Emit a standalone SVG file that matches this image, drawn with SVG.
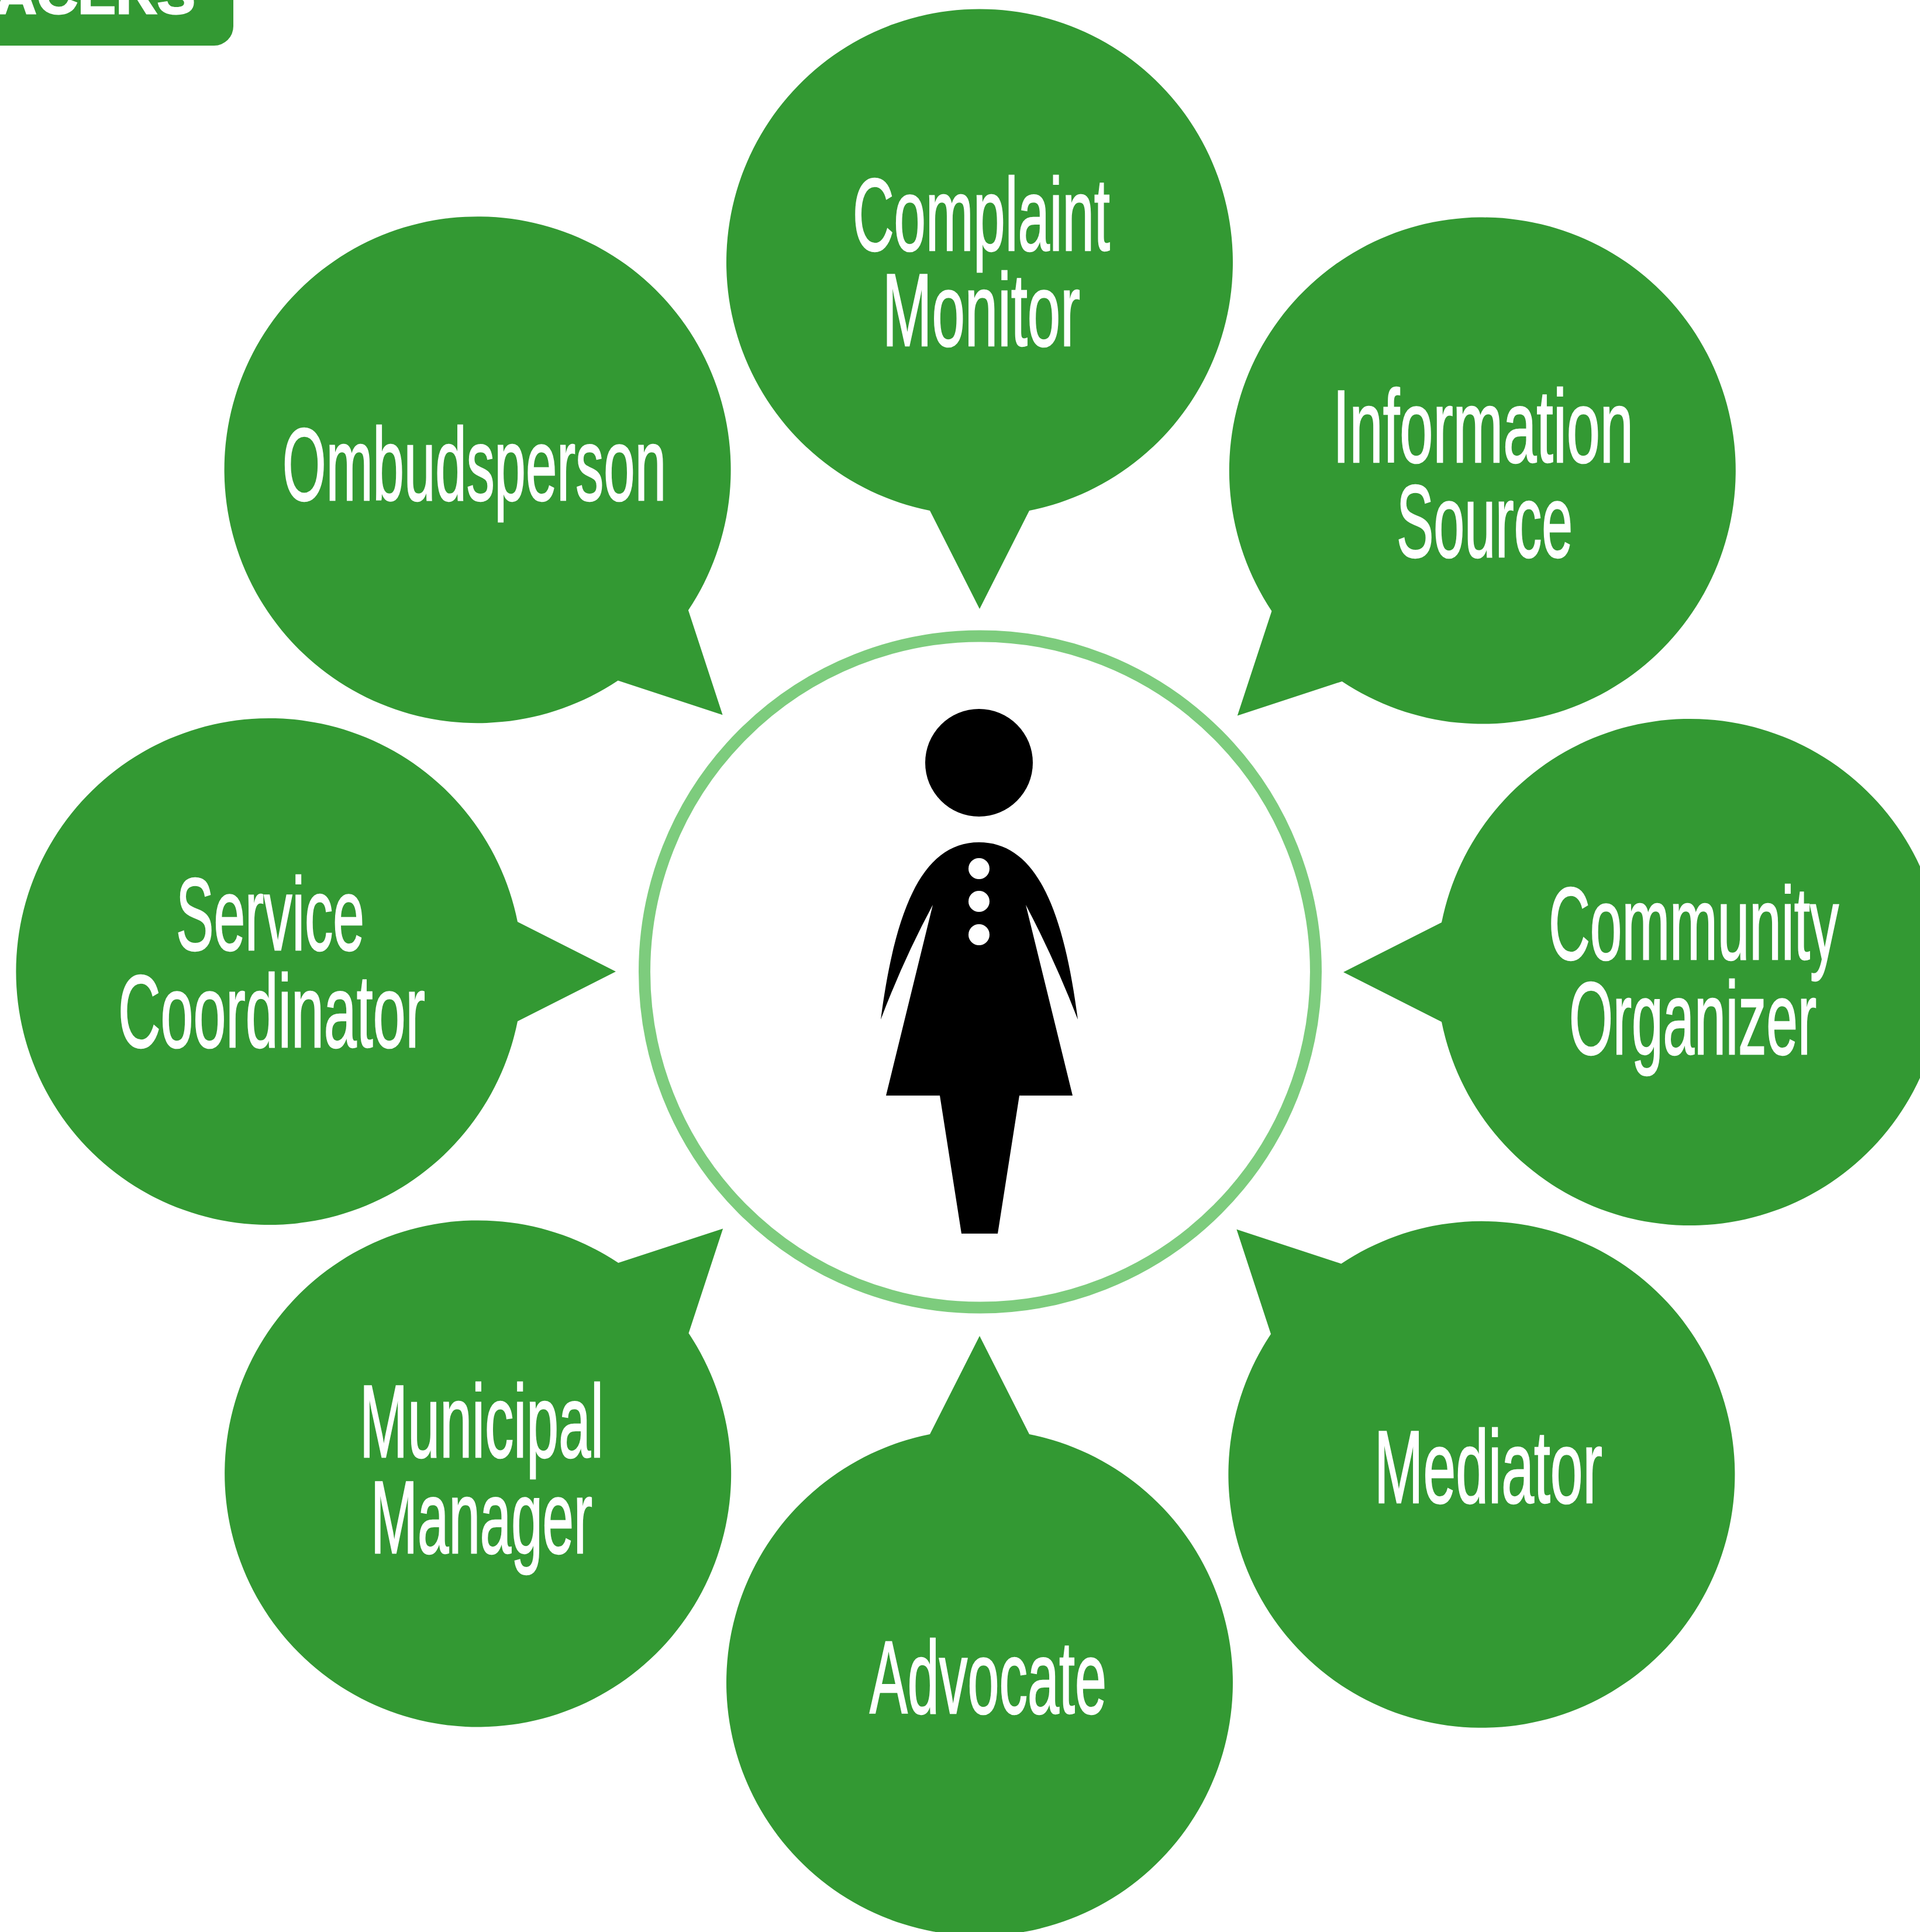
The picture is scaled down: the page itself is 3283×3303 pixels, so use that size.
<svg xmlns="http://www.w3.org/2000/svg" xmlns:xlink="http://www.w3.org/1999/xlink" width="3283" height="3303" viewBox="0 0 3283 3303">
<style>
.b{fill:#339933}
.t{font-family:"Liberation Sans",Arial,sans-serif;font-size:176px;fill:#fff;stroke:#fff;stroke-width:2.5px;text-anchor:start}
.h{font-family:"Liberation Sans",Arial,sans-serif;font-weight:700;font-size:97px;fill:#fff;stroke:#fff;stroke-width:3px}
</style>
<defs><path id="bubble" class="b" d="M1590 873L1675 1041L1760 873A433 433 0 1 0 1590 873Z"/></defs>
<rect width="3283" height="3303" fill="#fff"/>
<g id="header"><rect x="-40" y="-60" width="439" height="138" rx="33" class="b"/><text class="h" x="-8" y="23" textLength="342" lengthAdjust="spacingAndGlyphs">ACERS</text></g>
<g id="center"><circle cx="1676" cy="1661.5" r="574" fill="#fff" stroke="#7dcc7d" stroke-width="20"/>
<circle cx="1674" cy="1304" r="92" fill="#000"/>
<path fill="#000" d="M1674 1440C1575 1440 1530 1560 1506 1743Q1545 1640 1595 1547L1515 1873H1607L1644 2109H1706L1743 1873H1834L1754 1547Q1803 1640 1843 1743C1819 1560 1774 1440 1674 1440Z"/>
<circle cx="1674" cy="1485" r="18" fill="#fff"/><circle cx="1674" cy="1541" r="18" fill="#fff"/><circle cx="1674" cy="1598" r="18" fill="#fff"/></g>
<g id="complaint-monitor"><use xlink:href="#bubble" href="#bubble"/><text class="t" x="1458" y="428" textLength="440" lengthAdjust="spacingAndGlyphs">Complaint</text><text class="t" x="1509" y="591" textLength="338" lengthAdjust="spacingAndGlyphs">Monitor</text></g>
<g id="information-source"><use href="#bubble" transform="translate(2 0) rotate(45 1674 1662)"/><text class="t" x="2279" y="790" textLength="514" lengthAdjust="spacingAndGlyphs">Information</text><text class="t" x="2388" y="952" textLength="301" lengthAdjust="spacingAndGlyphs">Source</text></g>
<g id="community-organizer"><use href="#bubble" transform="translate(2 -1) rotate(90 1674 1662)"/><text class="t" x="2648" y="1640" textLength="496" lengthAdjust="spacingAndGlyphs">Community</text><text class="t" x="2683" y="1802" textLength="423" lengthAdjust="spacingAndGlyphs">Organizer</text></g>
<g id="mediator"><use href="#bubble" transform="translate(2 0) rotate(135 1674 1662)"/><text class="t" x="2350" y="2569" textLength="390" lengthAdjust="spacingAndGlyphs">Mediator</text></g>
<g id="advocate"><use href="#bubble" transform="translate(2 1) rotate(180 1674 1662)"/><text class="t" x="1487" y="2929" textLength="405" lengthAdjust="spacingAndGlyphs">Advocate</text></g>
<g id="municipal-manager"><use href="#bubble" transform="translate(2 0) rotate(225 1674 1662)"/><text class="t" x="615" y="2491" textLength="417" lengthAdjust="spacingAndGlyphs">Municipal</text><text class="t" x="634" y="2655" textLength="379" lengthAdjust="spacingAndGlyphs">Manager</text></g>
<g id="service-coordinator"><use href="#bubble" transform="rotate(270 1674 1662)"/><text class="t" x="301" y="1624" textLength="322" lengthAdjust="spacingAndGlyphs">Service</text><text class="t" x="202" y="1790" textLength="525" lengthAdjust="spacingAndGlyphs">Coordinator</text></g>
<g id="ombudsperson"><use href="#bubble" transform="rotate(315 1674 1662)"/><text class="t" x="483" y="855" textLength="656" lengthAdjust="spacingAndGlyphs">Ombudsperson</text></g>
</svg>
